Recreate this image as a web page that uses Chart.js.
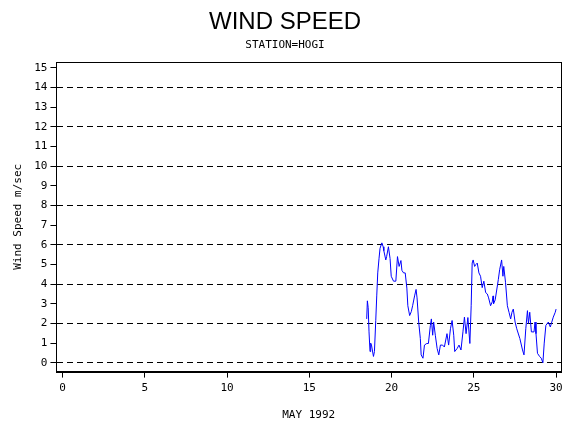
<!DOCTYPE html>
<html><head><script src="https://cdn.jsdelivr.net/npm/chart.js@4/dist/chart.umd.min.js"></script>
<style>body{margin:0;background:#fff}#w{position:absolute;left:0;top:0;width:570px;height:430px}</style></head>
<body><div id="w"><canvas id="c"></canvas></div>
<script>
const days=[18.49,18.53,18.58,18.63,18.69,18.73,18.78,18.9,18.96,19.04,19.1,19.16,19.24,19.3,19.41,19.49,19.53,19.65,19.7,19.81,19.91,19.98,20.12,20.26,20.36,20.46,20.57,20.63,20.73,20.83,20.93,20.99,21.1,21.2,21.28,21.4,21.49,21.55,21.65,21.75,21.8,21.91,22.0,22.14,22.24,22.36,22.42,22.5,22.56,22.66,22.77,22.87,22.97,23.1,23.21,23.37,23.47,23.58,23.68,23.78,23.84,23.99,24.1,24.22,24.34,24.43,24.53,24.64,24.76,24.84,24.9,24.96,25.05,25.13,25.21,25.31,25.41,25.51,25.61,25.72,25.82,25.9,26.02,26.12,26.17,26.2,26.3,26.49,26.57,26.69,26.77,26.82,26.93,27.04,27.14,27.24,27.32,27.4,27.51,27.61,27.8,27.96,28.05,28.16,28.26,28.32,28.4,28.5,28.66,28.72,28.78,28.87,29.0,29.1,29.2,29.28,29.38,29.53,29.65,29.74,29.83,29.95,30.0];
const speed=[2.23,3.15,2.8,1.57,0.57,1.0,0.9,0.32,0.57,2.15,3.4,4.57,5.32,5.82,6.1,5.9,5.7,5.23,5.4,5.9,5.3,4.4,4.15,4.15,5.4,4.9,5.2,4.7,4.57,4.57,3.8,2.9,2.4,2.6,2.9,3.4,3.73,3.3,2.07,1.23,0.4,0.23,0.9,0.98,0.98,1.9,2.23,1.4,2.07,1.4,0.73,0.4,0.9,0.9,0.8,1.48,0.9,1.73,2.15,1.4,0.57,0.73,0.9,0.65,1.57,2.32,1.48,2.3,0.98,2.9,5.07,5.23,4.9,5.0,5.07,4.57,4.4,3.82,4.15,3.57,3.5,3.3,2.9,3.1,3.4,3.0,3.2,4.23,4.73,5.23,4.4,4.9,4.07,2.9,2.57,2.23,2.57,2.73,2.07,1.73,1.23,0.65,0.4,1.73,2.65,2.0,2.57,1.57,1.57,2.07,1.48,0.48,0.32,0.23,0.0,1.0,1.9,2.07,1.82,2.07,2.32,2.57,2.73];
const titleText='WIND SPEED';
const subtitleText='STATION=HOGI';
const F="'DejaVu Sans Mono', monospace";
new Chart(document.getElementById('c'),{
 type:'line',
 data:{datasets:[{data:days.map((d,i)=>({x:d,y:speed[i]})),borderColor:'#0000ff',borderWidth:1,pointRadius:0,tension:0}]},
 options:{responsive:true,maintainAspectRatio:false,animation:false,
  layout:{padding:{left:8,right:9,top:62,bottom:4}},
  plugins:{legend:{display:false},tooltip:{enabled:false}},
  scales:{
   x:{type:'linear',min:-0.37,max:30.3,
    grid:{display:true,drawOnChartArea:false,color:'#000',tickLength:6},border:{color:'#000',width:1},
    ticks:{color:'#000',font:{family:F,size:11},maxRotation:0,padding:4,stepSize:5,includeBounds:false},
    title:{display:true,text:'MAY 1992',color:'#000',font:{family:F,size:11},padding:{top:10}}},
   y:{min:-0.45,max:15.3,
    grid:{color:c=>(c.tick&&c.tick.value%2===0)?'#000':'rgba(0,0,0,0)',tickColor:'#000',tickLength:6},
    border:{color:'#000',width:1,dash:[6,4]},
    ticks:{color:'#000',font:{family:F,size:11},padding:3,stepSize:1,includeBounds:false},
    title:{display:true,text:'Wind Speed m/sec',color:'#000',font:{family:F,size:11},padding:{bottom:6}}}
  }},
 plugins:[{id:'frame',afterDraw(c){const a=c.chartArea,x=c.ctx;x.save();x.strokeStyle='#000';x.lineWidth=1;x.setLineDash([]);x.strokeRect(Math.round(a.left)+0.5,Math.round(a.top)+0.5,Math.round(a.right-a.left),Math.round(a.bottom-a.top));
  x.fillStyle='#000';x.textAlign='center';x.textBaseline='alphabetic';
  x.font="24px 'Liberation Sans', Arial";x.fillText(titleText,285,29);
  x.font="11px "+F;x.fillText(subtitleText,285,48);x.restore();}}]
});
</script></body></html>
